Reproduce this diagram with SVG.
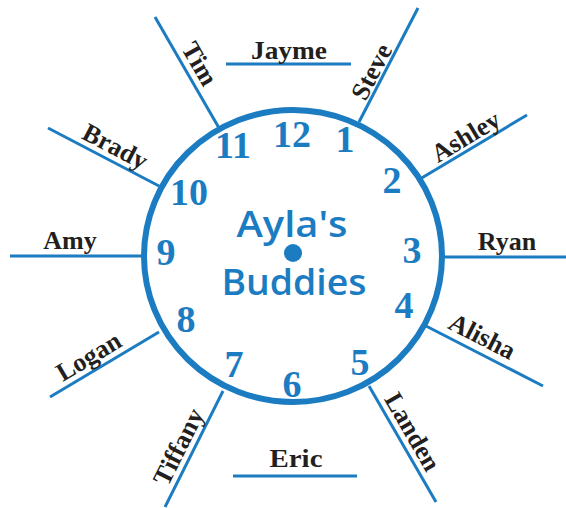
<svg xmlns="http://www.w3.org/2000/svg" width="566" height="508" viewBox="0 0 566 508">
<style>
.ln{stroke:#1b7cc2;stroke-width:3;fill:none;stroke-linecap:butt}
.nm{font-family:"Liberation Serif","Times New Roman",serif;font-weight:bold;font-size:26px;fill:#231f20;text-anchor:middle}
.dg{font-family:"Liberation Serif","Times New Roman",serif;font-weight:bold;font-size:38px;fill:#1b7cc2;text-anchor:middle}
.tt{font-family:"Comic Sans MS","Open Sans",sans-serif;font-weight:600;font-size:36px;fill:#1b7cc2;text-anchor:middle}
</style>
<rect width="566" height="508" fill="#ffffff"/>
<g id="connectors">
<line class="ln" x1="155" y1="17" x2="219" y2="128"/>
<line class="ln" x1="418" y1="8" x2="359" y2="122"/>
<line class="ln" x1="226" y1="64" x2="351" y2="64"/>
<line class="ln" x1="48" y1="128" x2="159" y2="186"/>
<line class="ln" x1="10" y1="256" x2="146" y2="256"/>
<line class="ln" x1="50" y1="397" x2="159" y2="332"/>
<line class="ln" x1="420" y1="179" x2="527" y2="115"/>
<line class="ln" x1="440" y1="257" x2="566" y2="257"/>
<line class="ln" x1="426" y1="326" x2="543" y2="386"/>
<line class="ln" x1="223" y1="391" x2="165" y2="507"/>
<line class="ln" x1="369" y1="386" x2="436" y2="502"/>
<line class="ln" x1="233" y1="476" x2="357" y2="476"/>
</g>
<g id="clock">
<ellipse cx="293" cy="256" rx="149" ry="146" fill="none" stroke="#1b7cc2" stroke-width="6"/>
<circle cx="293" cy="253" r="9" fill="#1b7cc2"/>
<text class="dg" x="233" y="158">11</text>
<text class="dg" x="292" y="147">12</text>
<text class="dg" x="345" y="152">1</text>
<text class="dg" x="189" y="205">10</text>
<text class="dg" x="166" y="265">9</text>
<text class="dg" x="186" y="332">8</text>
<text class="dg" x="392" y="193">2</text>
<text class="dg" x="412" y="263">3</text>
<text class="dg" x="404" y="318">4</text>
<text class="dg" x="234" y="377">7</text>
<text class="dg" x="292" y="397">6</text>
<text class="dg" x="360" y="375">5</text>
<text class="tt" x="292" y="237" textLength="111" lengthAdjust="spacingAndGlyphs">Ayla's</text>
<text class="tt" x="294" y="295" textLength="145" lengthAdjust="spacingAndGlyphs">Buddies</text>
</g>
<g id="tim"><text class="nm" transform="translate(199,64) rotate(60)" y="8">Tim</text></g>
<g id="steve"><text class="nm" transform="translate(372,72) rotate(-62.6)" y="8">Steve</text></g>
<g id="jayme"><text class="nm" x="289" y="59" textLength="76" lengthAdjust="spacingAndGlyphs">Jayme</text></g>
<g id="brady"><text class="nm" transform="translate(115,147) rotate(27.6)" y="8">Brady</text></g>
<g id="amy"><text class="nm" x="70" y="249">Amy</text></g>
<g id="logan"><text class="nm" transform="translate(89,357) rotate(-30.9)" y="8">Logan</text></g>
<g id="ashley"><text class="nm" transform="translate(466,137) rotate(-31)" y="8">Ashley</text></g>
<g id="ryan"><text class="nm" x="507" y="250">Ryan</text></g>
<g id="alisha"><text class="nm" transform="translate(482,337) rotate(27.2)" y="8">Alisha</text></g>
<g id="tiffany"><text class="nm" transform="translate(179,447) rotate(-63.4)" y="8">Tiffany</text></g>
<g id="landen"><text class="nm" transform="translate(412,432) rotate(60)" y="8">Landen</text></g>
<g id="eric"><text class="nm" x="296" y="467" textLength="53" lengthAdjust="spacingAndGlyphs">Eric</text></g>
</svg>
